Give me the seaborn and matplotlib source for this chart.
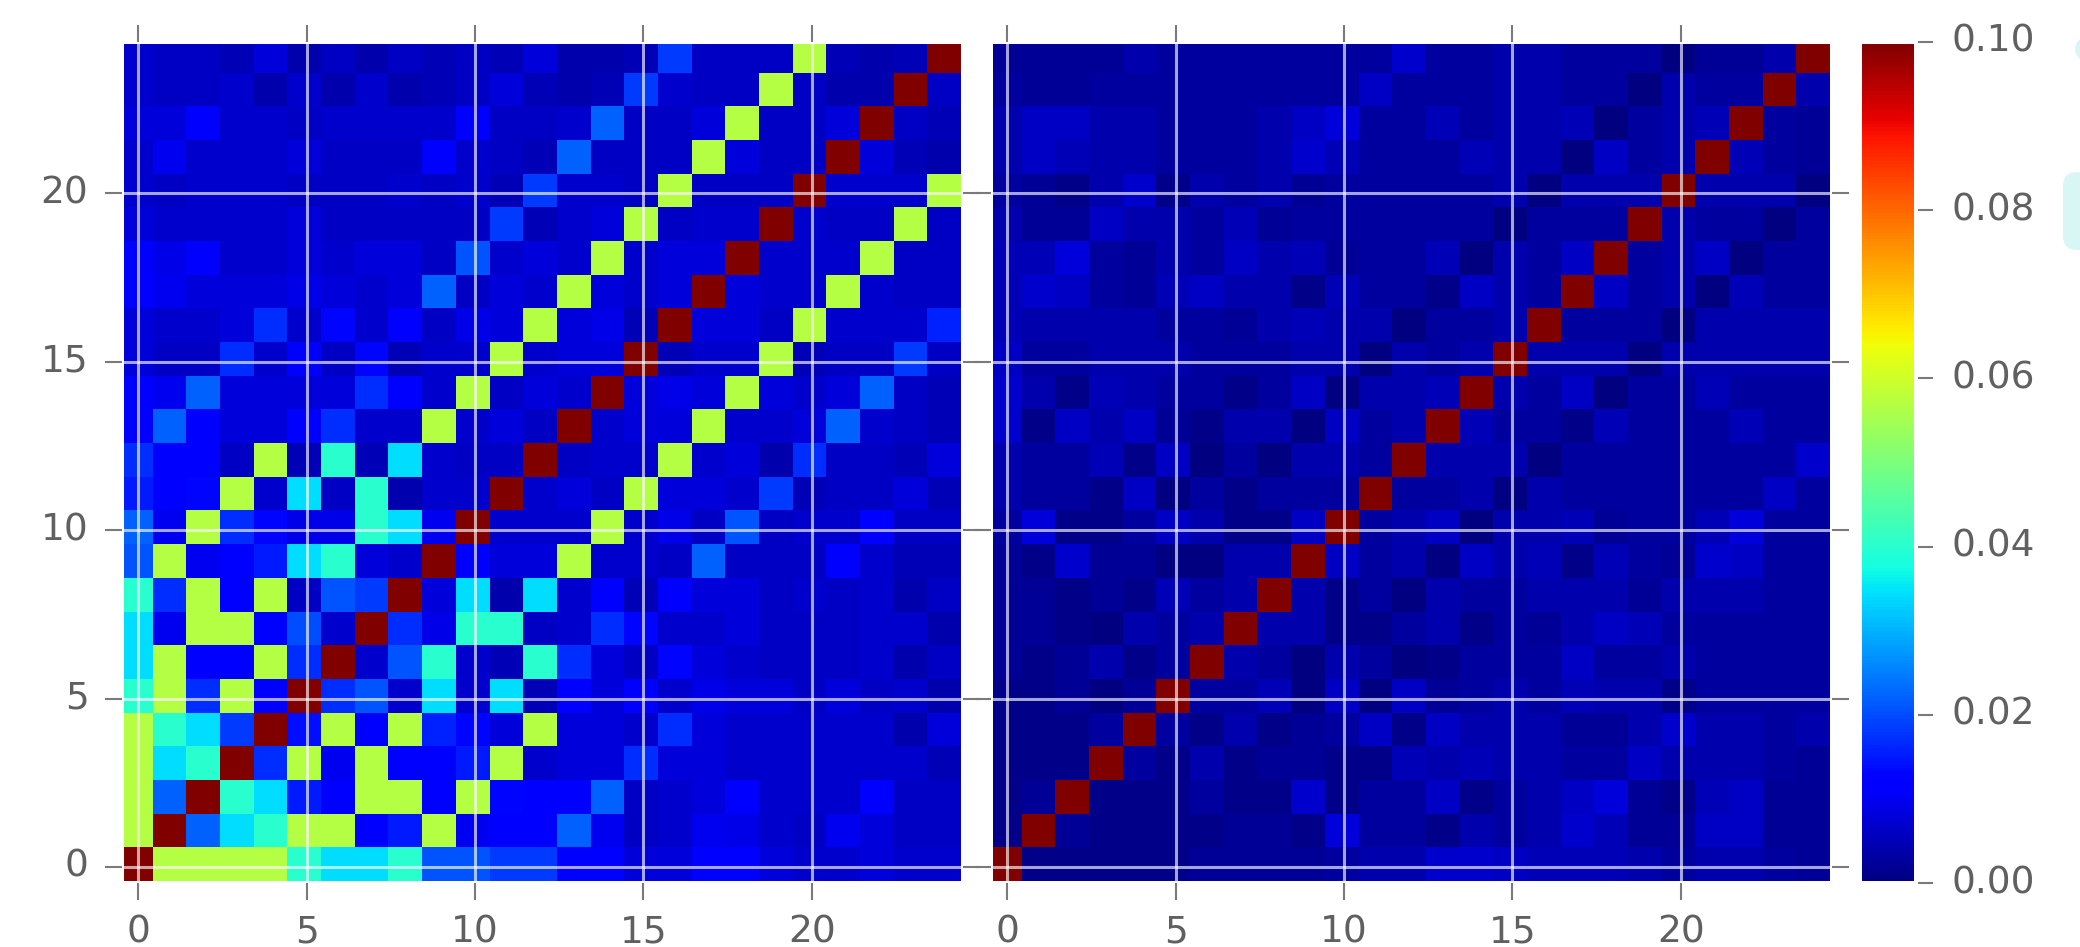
import numpy as np
import matplotlib
matplotlib.use("Agg")
import matplotlib.pyplot as plt
from matplotlib.patches import Ellipse, FancyBboxPatch
from matplotlib.transforms import IdentityTransform, ScaledTranslation
import seaborn as sns

# values, in thousandths, row 0 is the bottom row
left_values = [
    [100,57,57,57,57,40,34,34,40,21,21,18,18,11,11,8,8,11,11,8,7,7,8,7,7],
    [57,100,22,34,40,57,57,12,15,57,10,11,11,22,10,6,7,10,9,7,6,10,8,6,6],
    [57,22,100,40,34,15,12,57,57,11,57,13,12,11,22,6,7,8,11,7,7,7,11,6,6],
    [57,34,40,100,17,57,10,57,12,12,15,57,7,8,8,17,8,8,7,7,7,7,7,7,5],
    [57,40,34,18,100,14,57,11,57,16,13,8,57,8,8,7,17,8,7,7,7,7,7,4,8],
    [40,57,17,57,12,100,17,21,7,34,7,34,5,12,8,11,7,9,8,8,6,8,6,7,4],
    [34,57,11,11,57,17,100,7,21,40,7,5,40,17,8,6,13,8,7,6,6,6,7,4,6],
    [34,10,57,57,11,20,7,100,17,9,40,40,6,7,17,13,7,7,8,6,6,6,7,7,4],
    [40,17,57,12,57,6,21,18,100,8,34,4,34,7,11,5,11,8,8,6,7,6,7,4,6],
    [21,57,10,11,15,34,40,8,7,100,11,8,8,57,7,7,6,22,6,6,6,11,7,5,5],
    [22,10,57,17,13,9,9,40,34,10,100,7,7,7,57,7,9,6,21,6,7,7,11,6,6],
    [15,11,13,57,7,34,6,40,4,7,7,100,7,8,6,57,8,8,7,18,5,6,6,8,5],
    [17,11,11,6,57,5,40,5,34,7,6,6,100,6,7,7,57,7,8,4,17,6,6,5,8],
    [11,22,11,8,8,12,17,7,7,57,7,8,6,100,7,8,8,57,7,7,8,22,7,6,5],
    [11,10,22,8,8,8,8,17,11,7,57,6,8,7,100,8,9,8,57,8,7,8,22,6,5],
    [8,6,6,17,7,11,6,13,5,7,7,57,7,8,8,100,5,7,7,57,5,6,6,18,6],
    [8,7,7,8,17,7,13,7,11,6,9,8,57,8,9,5,100,8,8,6,57,7,7,7,16],
    [11,10,8,8,8,9,8,7,8,22,6,8,7,57,8,7,8,100,8,7,7,57,7,6,6],
    [11,9,11,7,7,8,7,8,8,6,21,7,8,7,57,7,8,8,100,7,7,7,57,6,6],
    [8,7,7,7,7,8,6,6,6,6,6,18,5,7,8,57,6,7,7,100,7,6,6,57,6],
    [7,6,7,7,7,6,6,6,7,6,7,5,18,7,7,6,57,6,6,6,100,7,7,7,57],
    [7,10,7,7,7,8,6,6,6,11,7,6,5,22,6,6,6,57,8,6,6,100,8,5,4],
    [8,8,11,7,7,6,7,7,7,7,11,6,6,7,22,6,6,8,57,6,6,8,100,6,5],
    [7,6,6,7,4,7,4,7,4,5,6,8,5,4,5,18,7,6,6,57,6,4,4,100,6],
    [7,6,6,5,8,4,6,4,6,5,6,5,8,4,4,5,18,6,6,6,57,5,4,5,100],
]

right_values = [
    [100,1,1,1,1,1,2,2,2,2,3,4,4,7,7,6,5,5,5,4,3,4,4,3,2],
    [1,100,2,1,1,1,1,2,2,1,8,3,3,1,4,3,4,7,5,2,2,6,6,2,2],
    [1,2,100,1,1,1,3,1,1,7,1,3,3,6,1,3,4,6,8,2,1,5,6,2,2],
    [1,1,1,100,3,1,4,1,2,2,1,1,5,4,5,4,4,3,3,6,4,4,4,3,2],
    [1,1,1,3,100,3,1,4,1,2,3,6,1,6,4,4,4,2,2,4,7,4,4,3,4],
    [1,1,2,0,2,100,3,3,5,0,6,0,6,2,3,4,3,5,4,4,1,3,3,3,3],
    [2,1,2,4,1,3,100,4,3,0,4,3,0,1,3,3,3,6,3,3,4,3,3,3,3],
    [2,2,1,0,4,3,4,100,4,4,1,1,3,4,1,3,2,4,6,5,3,3,3,3,3],
    [2,2,1,2,1,5,3,4,100,4,1,3,0,4,3,3,4,4,4,2,4,4,4,3,3],
    [2,1,7,2,2,0,0,4,4,100,6,3,4,0,6,4,5,1,5,3,2,7,6,3,3],
    [3,8,1,1,3,6,4,1,1,6,100,3,4,6,0,4,4,5,2,3,3,5,8,3,3],
    [4,3,3,1,6,0,3,1,3,3,3,100,3,3,4,0,4,3,3,3,3,3,3,6,3],
    [4,3,3,5,1,6,0,3,0,4,4,3,100,4,4,4,0,3,3,3,3,3,3,3,7],
    [7,1,6,4,6,2,1,4,4,0,6,3,4,100,5,3,3,1,5,3,3,3,5,3,3],
    [7,4,1,5,4,3,3,1,3,6,0,4,4,5,100,4,3,6,0,3,3,5,3,3,3],
    [6,3,3,4,4,4,3,3,3,4,4,0,4,3,4,100,4,4,4,0,4,4,4,4,4],
    [5,4,4,4,4,3,3,2,4,5,4,4,0,3,3,4,100,3,3,3,0,4,4,4,4],
    [5,7,6,3,2,5,6,4,4,1,5,3,3,1,6,4,3,100,6,3,4,0,5,3,3],
    [5,5,8,3,2,4,3,6,4,5,2,3,3,5,0,4,3,6,100,3,4,6,0,3,3],
    [4,2,2,6,4,4,3,5,2,3,3,3,3,3,3,0,3,3,3,100,4,3,3,0,3],
    [3,2,1,4,7,1,4,3,4,2,3,3,3,3,3,4,0,4,4,4,100,4,4,4,0],
    [4,6,5,4,4,3,3,3,4,7,5,3,3,3,5,4,4,0,6,3,4,100,5,3,2],
    [4,6,6,4,4,3,3,3,4,6,8,3,3,5,3,4,4,5,0,3,4,5,100,3,2],
    [3,2,2,3,3,3,3,3,3,3,3,6,3,3,3,4,4,3,3,0,4,3,3,100,4],
    [2,2,2,2,4,3,3,3,3,3,3,3,7,3,3,4,4,3,3,3,0,2,2,4,100],
]

x_labels = ["0", "5", "10", "15", "20"]
y_labels = ["0", "5", "10", "15", "20"]
cbar_ticks = [0.00, 0.02, 0.04, 0.06, 0.08, 0.10]

W, H = 2080, 947
TICK_GREY = "#7a7a7a"
TEXT_GREY = "#606060"

sns.set_theme(style="white")
plt.rcParams["font.family"] = ["DejaVu Sans"]
plt.rcParams["font.size"] = 27


def px_axes(fig, x0, x1, y0, y1):
    # pixel box measured from the top left of the picture
    return fig.add_axes([x0 / W, 1 - y1 / H, (x1 - x0) / W, (y1 - y0) / H])


def draw_panel(ax, values, cbar_ax=None, show_y=True):
    sns.heatmap(np.array(values) / 1000.0, ax=ax, cmap="jet", vmin=0, vmax=0.1,
                cbar=cbar_ax is not None, cbar_ax=cbar_ax, square=False)
    # the source image is cropped unevenly, so ticks are not at cell centres
    ax.set_xlim(0.087, 25.06)
    ax.set_ylim(-0.06, 24.91)
    ax.set_xticks(np.arange(5) * 5 + 0.57)
    ax.set_yticks(np.arange(5) * 5 + 0.416)
    ax.set_xticklabels(x_labels, rotation=0, color=TEXT_GREY)
    ax.set_yticklabels(y_labels if show_y else [], rotation=0, color=TEXT_GREY)
    ax.tick_params(axis="both", which="major", direction="out", length=12.2, width=1.5,
                   color=TICK_GREY, top=True, right=True, bottom=True, left=True,
                   labelsize=27)
    ax.tick_params(axis="x", pad=10.5)
    ax.tick_params(axis="y", pad=12)
    ax.grid(True, color="white", linewidth=2.2, alpha=0.65)
    ax.set_axisbelow(False)
    for side in ax.spines:
        ax.spines[side].set_visible(True)
        ax.spines[side].set_color("white")
        ax.spines[side].set_linewidth(2.9)


fig = plt.figure(figsize=(W / 100, H / 100), dpi=100)
ax_left = px_axes(fig, 122, 963, 42, 883)
ax_right = px_axes(fig, 991, 1832, 42, 883)
ax_cbar = px_axes(fig, 1860, 1916, 42, 883)

draw_panel(ax_left, left_values)
draw_panel(ax_right, right_values, cbar_ax=ax_cbar, show_y=False)

cbar = ax_right.collections[0].colorbar
cbar.set_ticks(cbar_ticks)
cbar.set_ticklabels([f"{t:.2f}" for t in cbar_ticks])
cbar.ax.tick_params(direction="out", length=12.2, width=1.5, color=TICK_GREY,
                    labelcolor=TEXT_GREY, labelsize=27, pad=13, right=True)
cbar.outline.set_visible(True)
cbar.outline.set_edgecolor("white")
cbar.outline.set_linewidth(2.9)
# colour bar labels sit a little above their ticks in the original
nudge = ScaledTranslation(0, 4 / 100, fig.dpi_scale_trans)
for label in cbar.ax.get_yticklabels():
    label.set_transform(label.get_transform() + nudge)

# pale shapes cut off at the right edge of the screenshot
fig.add_artist(Ellipse((2092 / W, 1 - 49 / H), 34 / W, 28 / H, color="#d9f6f6",
                       transform=fig.transFigure, linewidth=0))
fig.add_artist(FancyBboxPatch((2069, H - 244), 40, 66, boxstyle="round,pad=6,rounding_size=14",
                              facecolor="#d9f6f6", edgecolor="none",
                              transform=IdentityTransform()))

fig.savefig("out.png", dpi=100)
